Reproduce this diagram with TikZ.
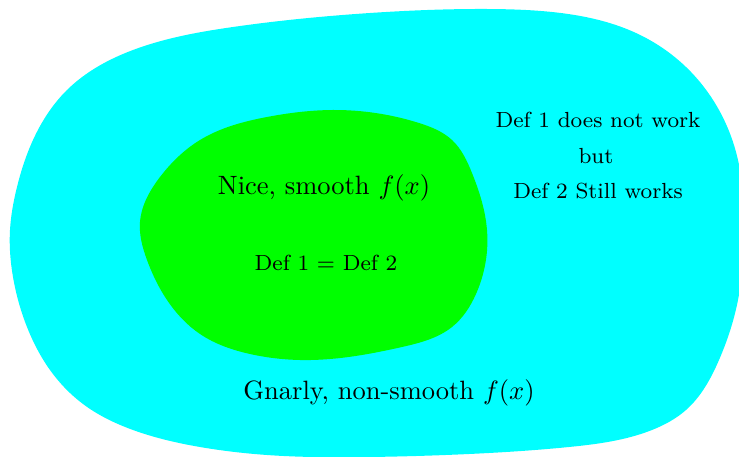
\documentclass[tikz,border=0pt]{standalone}
\usetikzlibrary{hobby}
\begin{document}
\begin{tikzpicture}[x={0.37736pt},y={-0.37736pt},
  blobA/.style={fill={rgb,255:red,0;green,255;blue,255}, draw=none},
  blobB/.style={fill={rgb,255:red,0;green,255;blue,0}, draw=none},
  lbl/.style={inner sep=0pt, anchor=center},
  smalltext/.style={lbl, font=\fontsize{8.25pt}{10pt}\selectfont}]
\useasboundingbox (0,0) rectangle (739,457);
\clip (0,0) rectangle (739,457);
\path[blobA] plot[closed hobby] coordinates {
  (370,13) (486,9) (552,12) (636,33) (686,67) (719,110) (738,160)
  (744,230) (738,300) (719,360) (686,410) (652,430) (569,447)
  (469,454) (370,457) (267,455) (200,447) (133,430) (83,404)
  (50,370) (27,327) (13,277) (10,230) (17,187) (33,140) (67,90)
  (133,50) (233,27)};
\path[blobB] plot[closed hobby] coordinates {
  (333,110) (419,123) (452,140) (472,173) (487,230) (476,294)
  (452,327) (402,347) (300,360) (250,354) (200,334) (167,300)
  (147,260) (140,222) (160,177) (200,140) (267,117)};
\node[lbl] (nice) at (324,188) {Nice, smooth $f(x)$};
\node[smalltext] (eq) at (326,263) {Def 1 = Def 2};
\node[smalltext] (d1) at (598,120) {Def 1 does not work};
\node[smalltext] (but) at (596,156) {but};
\node[smalltext] (d2) at (598,191) {Def 2 Still works};
\node[lbl] (gn) at (389,393) {Gnarly, non-smooth $f(x)$};
\end{tikzpicture}
\end{document}
